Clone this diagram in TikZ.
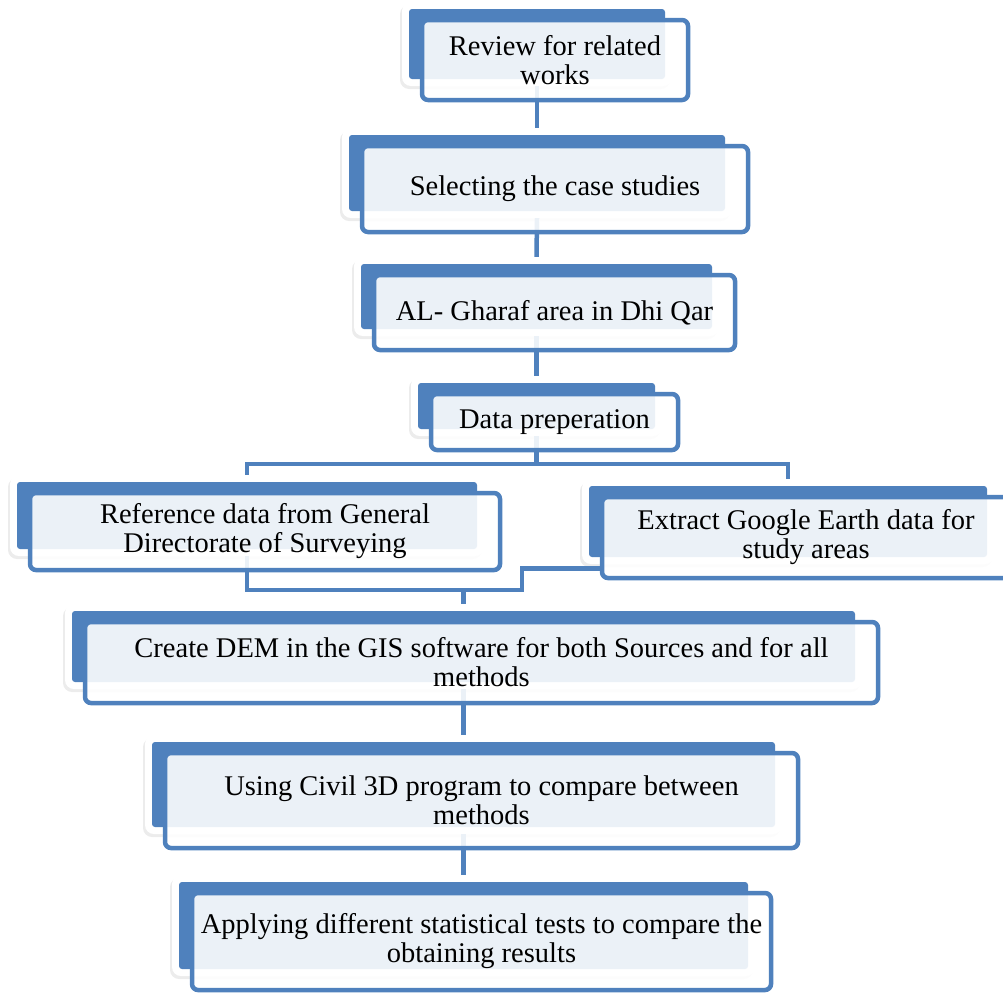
\documentclass[tikz,border=0pt]{standalone}
\usepackage{fontspec}
\setmainfont{Liberation Serif}
\usetikzlibrary{calc,shadows,positioning}
\definecolor{boxblue}{HTML}{4F81BD}
\pgfdeclarelayer{back}
\pgfdeclarelayer{wires}
\pgfsetlayers{back,wires,main}
\tikzset{
  frontbox/.style={draw=boxblue, line width=4.5pt, rounded corners=6pt,
    fill=white, fill opacity=0.89, text opacity=1, align=center,
    inner sep=0pt, font=\fontsize{28.5}{29}\selectfont},
  backbox/.style={fill=white, rounded corners=9pt,
    drop shadow={shadow xshift=-2pt, shadow yshift=-3pt, opacity=0.15}},
  backband/.style={fill=boxblue, rounded corners=3pt},
  wire/.style={draw=boxblue, line width=4.5pt}
}

\begin{document}
\begin{tikzpicture}[x=1pt,y=-1pt]
\useasboundingbox (0,0) rectangle (1003,994);

% boxes: front node, back card and blue band behind it
\foreach \name/\cx/\cy/\bw/\bh/\txt in {
    review/555/60/266/80/{Review for related\\works},
    select/555/189/386/86/{Selecting the case studies},
    gharaf/554.5/312.5/361/75/{AL- Gharaf area in Dhi Qar},
    prep/554.5/422/247/56/{Data preperation},
    ref/265/531.5/470/77/{Reference data from General\\Directorate of Surveying},
    earth/806/537.5/408/81/{Extract Google Earth data for\\study areas},
    dem/481.5/662.5/793/81/{Create DEM in the GIS software for both Sources and for all\\methods},
    civil/481.5/800.5/633/95/{Using Civil 3D program to compare between\\methods},
    apply/481.5/941.5/579/97/{Applying different statistical tests to compare the\\obtaining results}}{
  \node[frontbox, minimum width=\bw, minimum height=\bh] (\name) at (\cx,\cy) {\txt};
  \begin{pgfonlayer}{back}
    \node[backbox, minimum width=\bw+4, minimum height=\bh+4] (\name B) at ($(\name)+(-18,-16)$) {};
    \node[backband, minimum width=\bw-10, minimum height=\bh-10] at (\name B) {};
  \end{pgfonlayer}
}

% connectors
\begin{pgfonlayer}{wires}
  \draw[wire] (reviewB.south) -- (selectB.north);
  \draw[wire] (selectB.south) -- (gharafB.north);
  \draw[wire] (gharafB.south) -- (prepB.north);
  \coordinate (split) at ($(prepB.south)+(0,28)$);
  \draw[wire] (prepB.south) -- (split);
  \draw[wire] (refB.north) |- (split) -| (earthB.north);
  \coordinate (merge) at (522,590);
  \draw[wire] (refB.south) |- (merge) |- ($(earth.south west)+(4,-12)$);
  \draw[wire] (merge -| demB.north) -- (demB.north);
  \draw[wire] (demB.south) -- (civilB.north);
  \draw[wire] (civilB.south) -- (applyB.north);
\end{pgfonlayer}
\end{tikzpicture}
\end{document}
